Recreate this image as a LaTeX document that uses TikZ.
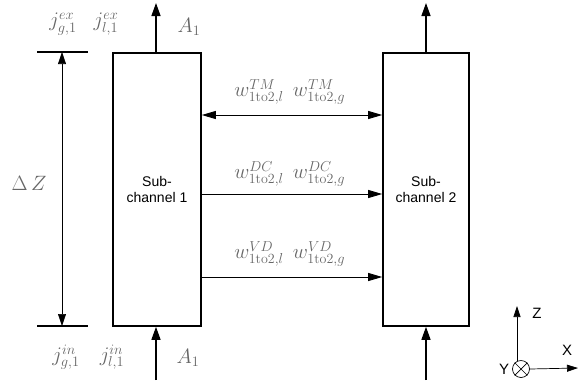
\documentclass[tikz,border=0pt]{standalone}
\usepackage{fontspec}
\setsansfont{Liberation Sans}
\usetikzlibrary{arrows.meta, positioning}

\begin{document}
\begin{tikzpicture}[
    x=1pt, y=-1pt,
    chan/.style={draw, line width=1.6pt, align=center, font=\sffamily\fontsize{14}{16}\selectfont,
                 inner sep=0pt},
    lbl/.style={text=black!60, font=\fontsize{20}{22}\selectfont, inner sep=0pt},
    ax/.style={font=\sffamily\fontsize{15}{17}\selectfont, inner sep=0pt},
    flow/.style={-{Triangle[length=13pt, width=9pt]}, line width=1.4pt},
    xfer/.style={-{Triangle[length=14pt, width=8pt]}, line width=0.9pt},
    both/.style={{Triangle[length=14pt, width=8pt]}-{Triangle[length=14pt, width=8pt]}, line width=0.9pt},
    dim/.style={{Triangle[length=12pt, width=8pt]}-{Triangle[length=12pt, width=8pt]}, line width=0.6pt},
]
    \useasboundingbox (0,0) rectangle (579,384);

    %==================== SUBCHANNELS ====================
    \node[chan, minimum width=88pt, minimum height=273pt] (c1) at (157,189.5) {Sub-\\channel 1};
    \node[chan, minimum width=86pt, minimum height=273pt] (c2) at (426,189.5) {Sub-\\channel 2};

    %==================== AXIAL FLOWS ====================
    \coordinate (c1top) at (156,3);
    \coordinate (c1bot) at (156,380);
    \coordinate (c2top) at (426,3);
    \coordinate (c2bot) at (426,380);
    \draw[flow] (c1.north -| c1top) -- (c1top);
    \draw[flow] (c1bot) -- (c1.south -| c1bot);
    \draw[flow] (c2.north) -- (c2top);
    \draw[flow] (c2bot) -- (c2.south);

    \node[lbl] (jgex) at (63,24) {$j^{ex}_{g,1}$};
    \node[lbl] (jlex) at (106,24) {$j^{ex}_{l,1}$};
    \node[lbl] (atop) at (189,27) {$A_1$};
    \node[lbl] (jgin) at (66,357) {$j^{in}_{g,1}$};
    \node[lbl] (jlin) at (112,357) {$j^{in}_{l,1}$};
    \node[lbl] (abot) at (188,358) {$A_1$};

    %==================== HEIGHT dZ ====================
    \coordinate (dztop) at (62,52);
    \coordinate (dzbot) at (62,326);
    \draw[line width=1.4pt] ([xshift=-25pt]dztop) -- ([xshift=26pt]dztop);
    \draw[line width=1.4pt] ([xshift=-25pt]dzbot) -- ([xshift=26pt]dzbot);
    \draw[dim] (dztop) -- (dzbot);
    \node[lbl] (dz) at (29,183) {$\Delta\,Z$};

    %==================== LATERAL TRANSFER ====================
    \draw[both] (c1.east |- 0,115) -- (c2.west |- 0,115);
    \draw[xfer] (c1.east |- 0,194) -- (c2.west |- 0,194);
    \draw[xfer] (c1.east |- 0,277) -- (c2.west |- 0,277);

    \node[lbl] (tml) at (259,92) {$w^{TM}_{\mathrm{1to2},l}$};
    \node[lbl] (tmg) at (319,92) {$w^{TM}_{\mathrm{1to2},g}$};
    \node[lbl] (dcl) at (259,174) {$w^{DC}_{\mathrm{1to2},l}$};
    \node[lbl] (dcg) at (319,174) {$w^{DC}_{\mathrm{1to2},g}$};
    \node[lbl] (vdl) at (259,254) {$w^{VD}_{\mathrm{1to2},l}$};
    \node[lbl] (vdg) at (319,254) {$w^{VD}_{\mathrm{1to2},g}$};

    %==================== AXES ====================
    \node[draw, circle, line width=0.7pt, minimum size=17pt, inner sep=0pt] (yax) at (521,369) {};
    \draw[line width=0.7pt] (yax.north west) -- (yax.south east);
    \draw[line width=0.7pt] (yax.north east) -- (yax.south west);
    \coordinate (ztip) at (517,306);
    \coordinate (xtip) at (578,368);
    \draw[-{Triangle[length=11pt, width=7pt]}, line width=0.7pt] (517,361) -- (ztip);
    \draw[-{Triangle[length=11pt, width=7pt]}, line width=0.7pt] (yax.east) -- (xtip);
    \node[ax] (zl) at (537,313) {Z};
    \node[ax] (xl) at (567,350) {X};
    \node[ax] (yl) at (504,369) {Y};

\end{tikzpicture}
\end{document}
